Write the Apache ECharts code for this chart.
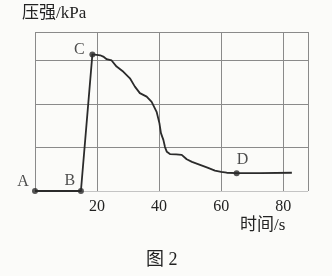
<!DOCTYPE html>
<html>
<head>
<meta charset="utf-8">
<script src="https://cdn.jsdelivr.net/npm/echarts@6/dist/echarts.min.js"></script>
<style>
html,body{margin:0;padding:0;background:#fbfbf9;}
#c{width:332px;height:276px;}
</style>
</head>
<body>
<div id="c"></div>
<script>
// time (s) and pressure (grid units)
const times = [0, 14.8, 18.5, 19.9, 21.0, 22.0, 23.1, 23.6, 24.7, 25.2, 26.3, 28.5, 30.6, 32.2, 33.8, 36.0, 37.6, 39.2, 40.1, 40.6, 41.4, 41.9, 42.5, 43.5, 45.5, 47.3, 48.9, 50.6, 53.2, 55.8, 58.0, 60.0, 61.8, 65.0, 72.5, 82.8];
const pressure = [0, 0, 3.14, 3.13, 3.12, 3.09, 3.03, 3.01, 3.00, 2.97, 2.86, 2.74, 2.59, 2.40, 2.25, 2.17, 2.05, 1.82, 1.56, 1.33, 1.17, 1.01, 0.90, 0.85, 0.84, 0.83, 0.73, 0.67, 0.60, 0.53, 0.47, 0.44, 0.42, 0.41, 0.41, 0.42];
const pointNames = ['A', 'B', 'C', 'D'];
const pointTimes = [0, 14.8, 18.5, 65.0];
const pointValues = [0, 0, 3.14, 0.41];
const xTicks = [20, 40, 60, 80];
const xTitle = '时间/s';
const yTitle = '压强/kPa';
const caption = '图 2';

const labelOffsets = {A: [-12, -9], B: [-11, -10], C: [-13, -5], D: [6, -13]};

const chart = echarts.init(document.getElementById('c'), null, {renderer: 'canvas'});
const serif = 'Liberation Serif, "Noto Sans CJK SC", serif';
chart.setOption({
  backgroundColor: '#fbfbf9',
  animation: false,
  grid: {left: 35, right: 24, top: 32, bottom: 85, containLabel: false},
  xAxis: {
    type: 'value', min: 0, max: 88, interval: 20,
    axisLine: {show: false}, axisTick: {show: false},
    axisLabel: {
      color: '#222', fontFamily: serif, fontSize: 16, margin: 8,
      formatter: v => xTicks.indexOf(v) >= 0 ? String(v) : ''
    },
    splitLine: {show: true, lineStyle: {color: '#8a8a8a', width: 1}}
  },
  yAxis: {
    type: 'value', min: 0, max: 3.655, interval: 1,
    axisLine: {show: false}, axisTick: {show: false}, axisLabel: {show: false},
    splitLine: {show: true, lineStyle: {color: ['#c4c4c4', '#8a8a8a', '#8a8a8a', '#8a8a8a', '#8a8a8a'], width: 1}}
  },
  series: [
    {
      type: 'line',
      data: times.map((t, i) => [t, pressure[i]]),
      showSymbol: false,
      smooth: false,
      lineStyle: {color: '#2b2b2b', width: 1.8, join: 'round'},
      z: 3
    },
    {
      type: 'scatter',
      data: pointNames.map((n, i) => ({
        value: [pointTimes[i], pointValues[i]],
        name: n,
        label: {show: true, position: 'inside', offset: labelOffsets[n], formatter: n}
      })),
      symbolSize: 6,
      itemStyle: {color: '#2b2b2b'},
      label: {color: '#222', fontFamily: serif, fontSize: 16},
      z: 4
    }
  ],
  graphic: [
    {type: 'text', left: 22, top: 5, style: {text: yTitle, font: '17px ' + serif, fill: '#222'}},
    {type: 'text', left: 240, top: 217, style: {text: xTitle, font: '17px ' + serif, fill: '#222'}},
    {type: 'text', left: 146, top: 251, style: {text: caption, font: '18px ' + serif, fill: '#222'}}
  ]
});
</script>
</body>
</html>
